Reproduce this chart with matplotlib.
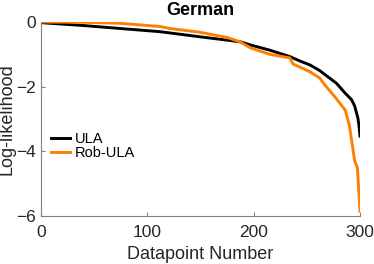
import matplotlib
matplotlib.use('Agg')
import matplotlib.pyplot as plt

# datapoint index and log-likelihood
ula_x = [0, 40, 74, 112, 150, 187, 197, 215, 234, 243, 253, 262, 270,
         278, 286, 292, 295, 298, 299, 300]
ula_y = [-0.02, -0.11, -0.2, -0.3, -0.46, -0.61, -0.71, -0.87, -1.07, -1.2,
         -1.33, -1.5, -1.7, -1.9, -2.2, -2.4, -2.6, -2.97, -3.2, -3.53]

rob_x = [0, 40, 74, 112, 121, 150, 175, 187, 197, 215, 234, 237, 253,
         262, 267, 276, 286, 290, 295, 297.5, 300]
rob_y = [0.0, -0.01, -0.04, -0.14, -0.2, -0.32, -0.48, -0.61, -0.8, -1.0,
         -1.11, -1.3, -1.54, -1.73, -1.95, -2.3, -2.72, -3.2, -4.3, -4.5,
         -5.85]

plt.rcParams['font.family'] = 'Liberation Sans'

fig = plt.figure(figsize=(3.74, 2.64), dpi=100)
ax = fig.add_axes([0.1096, 0.1818, 0.853, 0.7349])

ax.plot(ula_x, ula_y, color='black', lw=2.1, label='ULA')
ax.plot(rob_x, rob_y, color='#ff7f00', lw=2.1, label='Rob-ULA')

ax.set_xlim(0, 300)
ax.set_ylim(-6, 0)
ax.set_xticks([0, 100, 200, 300])
ax.set_yticks([0, -2, -4, -6])

for side in ['top', 'right']:
    ax.spines[side].set_visible(False)
for side in ['left', 'bottom']:
    ax.spines[side].set_color('#808080')
    ax.spines[side].set_linewidth(0.8)
ax.tick_params(direction='in', length=3, color='#808080', labelsize=12.5,
               labelcolor='#262626')
ax.tick_params(axis='x', pad=6.5)

ax.set_title('German', fontsize=13, fontweight='bold', pad=5)
ax.set_xlabel('Datapoint Number', fontsize=13, color='#262626')
ax.xaxis.set_label_coords(0.5, -0.155)
ax.set_ylabel('Log-likelihood', fontsize=13, color='#262626')
ax.yaxis.set_label_coords(-0.08, 0.5)

ax.legend(loc='center left', bbox_to_anchor=(0.0, 0.36), frameon=False,
          fontsize=10.5, handlelength=1.3, handletextpad=0.3,
          labelspacing=0.0, borderaxespad=0.3)

fig.savefig('out.png', dpi=100)
